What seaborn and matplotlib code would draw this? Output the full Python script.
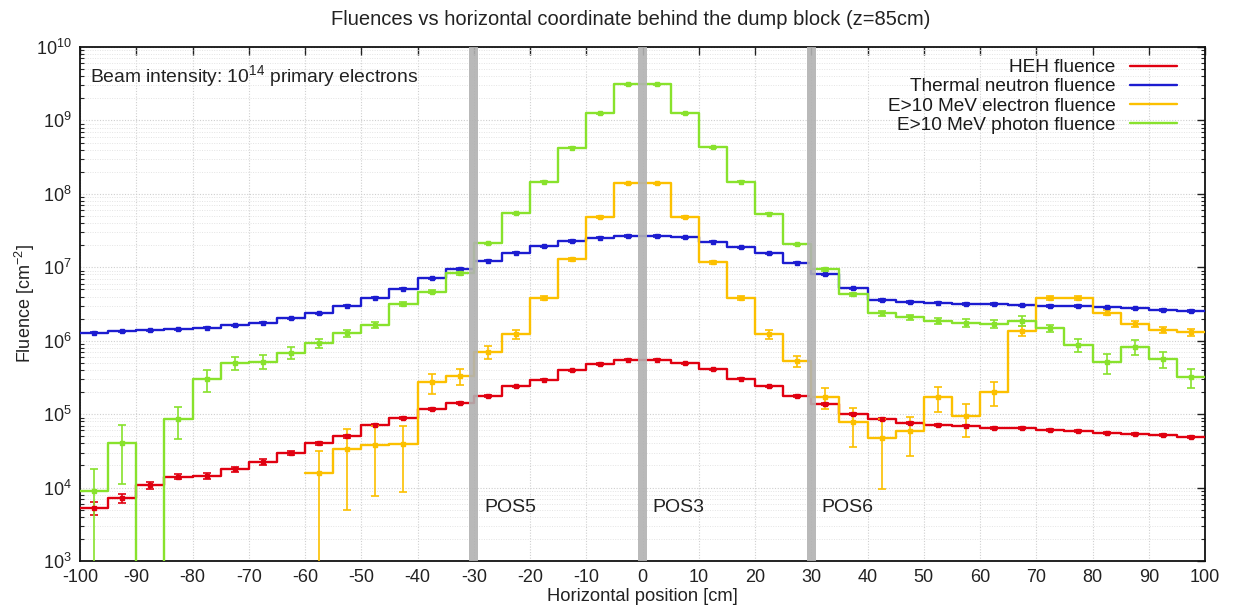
import numpy as np
import pandas as pd
import matplotlib
matplotlib.use("Agg")
import matplotlib.pyplot as plt
import seaborn as sns
from matplotlib.lines import Line2D
from matplotlib.ticker import LogLocator, NullFormatter, FixedLocator, LogFormatterSciNotation
import matplotlib.transforms as mtransforms

# ---------------- data ----------------
bin_centers = [-97.5, -92.5, -87.5, -82.5, -77.5, -72.5, -67.5, -62.5, -57.5, -52.5,
               -47.5, -42.5, -37.5, -32.5, -27.5, -22.5, -17.5, -12.5, -7.5, -2.5,
               2.5, 7.5, 12.5, 17.5, 22.5, 27.5, 32.5, 37.5, 42.5, 47.5,
               52.5, 57.5, 62.5, 67.5, 72.5, 77.5, 82.5, 87.5, 92.5, 97.5]
bin_width = 5.0

heh = [5.3e3, 7.1e3, 1.07e4, 1.41e4, 1.45e4, 1.77e4, 2.24e4, 2.96e4, 4.0e4, 5.0e4,
       7.1e4, 8.9e4, 1.16e5, 1.43e5, 1.78e5, 2.4e5, 2.96e5, 3.97e5, 4.8e5, 5.5e5,
       5.5e5, 4.9e5, 4.08e5, 3.03e5, 2.4e5, 1.78e5, 1.38e5, 1.01e5, 8.5e4, 7.5e4,
       7.06e4, 7.0e4, 6.4e4, 6.4e4, 6.0e4, 5.9e4, 5.6e4, 5.4e4, 5.2e4, 4.9e4]
heh_err = [0.19, 0.14, 0.12, 0.08, 0.09, 0.09, 0.09, 0.07, 0.06, 0.05,
           0.04, 0.03, 0.03, 0.03, 0.03, 0.02, 0.02, 0.02, 0.02, 0.02,
           0.02, 0.02, 0.02, 0.02, 0.02, 0.03, 0.03, 0.03, 0.03, 0.03,
           0.03, 0.03, 0.03, 0.03, 0.03, 0.03, 0.03, 0.03, 0.03, 0.03]

thermal = [1.29e6, 1.34e6, 1.38e6, 1.43e6, 1.51e6, 1.63e6, 1.76e6, 2.02e6, 2.35e6, 3.0e6,
           3.85e6, 5.1e6, 7.1e6, 9.5e6, 1.23e7, 1.58e7, 1.92e7, 2.28e7, 2.53e7, 2.67e7,
           2.67e7, 2.57e7, 2.24e7, 1.87e7, 1.55e7, 1.15e7, 8.0e6, 5.2e6, 3.6e6, 3.38e6,
           3.3e6, 3.17e6, 3.17e6, 3.02e6, 2.97e6, 2.98e6, 2.85e6, 2.76e6, 2.62e6, 2.54e6]
thermal_err = [0.02] * 40

electron = [np.nan] * 8 + [
    1.58e4, 3.35e4,
    3.8e4, 3.9e4, 2.7e5, 3.3e5, 7.1e5, 1.22e6, 3.78e6, 1.28e7, 4.8e7, 1.39e8,
    1.39e8, 4.8e7, 1.17e7, 3.78e6, 1.22e6, 5.3e5, 1.73e5, 7.9e4, 4.8e4, 5.96e4,
    1.7e5, 9.4e4, 2.0e5, 1.37e6, 3.78e6, 3.78e6, 2.4e6, 1.69e6, 1.4e6, 1.3e6]
electron_err = [np.nan] * 8 + [
    0.99, 0.85,
    0.8, 0.78, 0.3, 0.25, 0.2, 0.13, 0.06, 0.04, 0.03, 0.02,
    0.02, 0.03, 0.04, 0.06, 0.13, 0.18, 0.33, 0.55, 0.8, 0.55,
    0.38, 0.48, 0.35, 0.16, 0.06, 0.06, 0.08, 0.1, 0.1, 0.1]

photon = [9.1e3, 4.1e4, 3.0e2, 8.6e4, 3.0e5, 5.0e5, 5.2e5, 6.9e5, 9.2e5, 1.26e6,
          1.64e6, 3.13e6, 4.65e6, 8.3e6, 2.12e7, 5.43e7, 1.47e8, 4.26e8, 1.25e9, 3.1e9,
          3.1e9, 1.25e9, 4.3e8, 1.47e8, 5.4e7, 2.06e7, 9.4e6, 4.3e6, 2.36e6, 2.08e6,
          1.87e6, 1.76e6, 1.69e6, 1.87e6, 1.48e6, 8.7e5, 5.1e5, 8.3e5, 5.6e5, 3.2e5]
photon_err = [0.98, 0.73, 0.0, 0.47, 0.33, 0.2, 0.22, 0.19, 0.13, 0.12,
              0.08, 0.06, 0.05, 0.04, 0.02, 0.02, 0.02, 0.02, 0.02, 0.02,
              0.02, 0.02, 0.02, 0.02, 0.02, 0.02, 0.04, 0.05, 0.07, 0.07,
              0.1, 0.12, 0.12, 0.15, 0.1, 0.2, 0.3, 0.22, 0.25, 0.3]

series_names = ["HEH fluence", "Thermal neutron fluence",
                "E>10 MeV electron fluence", "E>10 MeV photon fluence"]
series_colors = ["#e00010", "#1c1cd0", "#fcc000", "#88e22c"]

pos_x = [-30, 0, 30]
pos_labels = ["POS5", "POS3", "POS6"]

x_ticks = [-100, -90, -80, -70, -60, -50, -40, -30, -20, -10, 0, 10, 20, 30, 40, 50, 60, 70, 80, 90, 100]
y_ticks = [1e3, 1e4, 1e5, 1e6, 1e7, 1e8, 1e9, 1e10]

# ---------------- style ----------------
sns.set_theme(style="white")
plt.rcParams["font.family"] = ["Liberation Sans", "DejaVu Sans"]
plt.rcParams["mathtext.fontset"] = "custom"
plt.rcParams["mathtext.rm"] = "Liberation Sans"
plt.rcParams["mathtext.it"] = "Liberation Sans:italic"
plt.rcParams["mathtext.bf"] = "Liberation Sans:bold"
plt.rcParams["axes.unicode_minus"] = False
plt.rcParams["text.color"] = "#1a1a1a"

fig = plt.figure(figsize=(12.4, 6.07), dpi=100)
ax = fig.add_axes([80 / 1240, 1 - 561 / 607, 1125 / 1240, 514 / 607])

# build step (histogram) long-form data from the bin values
rows = []
all_vals = [heh, thermal, electron, photon]
for name, vals in zip(series_names, all_vals):
    order = 0
    for c, v in zip(bin_centers, vals):
        if not np.isfinite(v):
            continue
        rows.append((name, order, c - bin_width / 2, v)); order += 1
        rows.append((name, order, c + bin_width / 2, v)); order += 1
steps = pd.DataFrame(rows, columns=["series", "order", "x", "y"])

ax.set_yscale("log")
for name, color in zip(series_names, series_colors):
    sub = steps[steps["series"] == name].sort_values("order")
    sns.lineplot(x=sub["x"].values, y=sub["y"].values, sort=False, estimator=None,
                 color=color, lw=1.7, ax=ax, zorder=3, legend=False)

# error bars
all_errs = [heh_err, thermal_err, electron_err, photon_err]
for vals, errs, color in zip(all_vals, all_errs, series_colors):
    v = np.array(vals, dtype=float)
    e = np.array(errs, dtype=float)
    m = np.isfinite(v) & np.isfinite(e) & (e > 0)
    xc = np.array(bin_centers)[m]
    ax.errorbar(xc, v[m], yerr=v[m] * e[m], fmt="s", ms=3.0, color=color,
                ecolor=color, elinewidth=1.2, capsize=3, capthick=1.2, zorder=4)

# position bands
trans = mtransforms.blended_transform_factory(ax.transData, ax.transAxes)
for px, lab in zip(pos_x, pos_labels):
    ax.axvspan(px - 0.8, px + 0.8, color="#b2b2b2", alpha=0.9, lw=0, zorder=5)
    ax.text(px + 1.8, 0.105, lab, transform=trans,
            fontsize=14, ha="left", va="center", color="#222222", zorder=6)

ax.set_xlim(-100, 100)
ax.set_ylim(1e3, 1e10)
ax.xaxis.set_major_locator(FixedLocator(x_ticks))
ax.yaxis.set_major_locator(FixedLocator(y_ticks))
ax.yaxis.set_major_formatter(LogFormatterSciNotation())
ax.yaxis.set_minor_locator(LogLocator(base=10, subs=np.arange(2, 10), numticks=20))
ax.yaxis.set_minor_formatter(NullFormatter())

ax.grid(True, which="major", axis="both", color="#cfcfcf", lw=0.8, ls=(0, (1, 1.5)), zorder=0)
ax.grid(True, which="minor", axis="y", color="#e4e4e4", lw=0.7, ls=(0, (1, 1.5)), zorder=0)

ax.tick_params(axis="both", which="major", direction="in", top=True, right=True,
               length=6, width=1.0, labelsize=13, colors="#222222", pad=6)
ax.tick_params(axis="y", which="minor", direction="in", left=True, right=True,
               length=3, width=0.8)
for s in ax.spines.values():
    s.set_color("#111111")
    s.set_linewidth(1.3)

ax.set_xlabel("Horizontal position [cm]", fontsize=13.2, color="#222222", labelpad=1)
ax.set_ylabel("Fluence [cm$^{-2}$]", fontsize=13, color="#222222")
ax.yaxis.set_label_coords(-0.038, 0.5)

fig.text(0.509, 0.968, "Fluences vs horizontal coordinate behind the dump block (z=85cm)",
         ha="center", va="center", fontsize=14.5, color="#222222")

ax.text(0.009, 0.944, "Beam intensity: 10$^{14}$ primary electrons", transform=ax.transAxes,
        ha="left", va="center", fontsize=13.9, color="#222222", zorder=6)

handles = [Line2D([0], [0], color=c, lw=1.7) for c in series_colors]
leg = ax.legend(handles, series_names, loc="upper right", bbox_to_anchor=(0.9855, 0.999),
                frameon=False, markerfirst=False, fontsize=13.7, handlelength=2.5,
                handletextpad=0.75, labelspacing=0.1, borderaxespad=0.2)
leg._legend_box.align = "right"
leg.set_zorder(7)

fig.savefig("out.png", dpi=100)
